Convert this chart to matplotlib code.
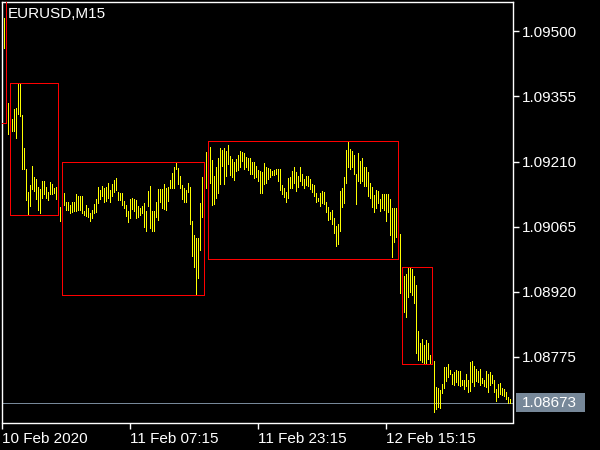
import matplotlib
matplotlib.use("Agg")
import matplotlib.pyplot as plt
import matplotlib.transforms as mtransforms
from matplotlib.patches import Rectangle

plt.rcParams['font.family'] = ['Liberation Sans', 'DejaVu Sans']

symbol = "EURUSD,M15"

highs = [
    1.09529, 1.09467, 1.09340, 1.09322, 1.09305, 1.09326, 1.09330, 1.09383, 1.09384, 1.09314,
    1.09240, 1.09194, 1.09143, 1.09158, 1.09200, 1.09176, 1.09171, 1.09154, 1.09149, 1.09167,
    1.09166, 1.09154, 1.09142, 1.09165, 1.09160, 1.09151, 1.09154, 1.09145, 1.09109, 1.09127,
    1.09139, 1.09121, 1.09119, 1.09114, 1.09121, 1.09121, 1.09138, 1.09134, 1.09133, 1.09134,
    1.09101, 1.09114, 1.09106, 1.09095, 1.09103, 1.09116, 1.09127, 1.09154, 1.09146, 1.09155,
    1.09152, 1.09154, 1.09163, 1.09146, 1.09160, 1.09170, 1.09174, 1.09143, 1.09141, 1.09139,
    1.09123, 1.09113, 1.09099, 1.09127, 1.09129, 1.09126, 1.09124, 1.09112, 1.09107, 1.09112,
    1.09118, 1.09101, 1.09145, 1.09156, 1.09101, 1.09101, 1.09121, 1.09149, 1.09149, 1.09149,
    1.09159, 1.09151, 1.09154, 1.09170, 1.09185, 1.09198, 1.09207, 1.09196, 1.09178, 1.09158,
    1.09152, 1.09146, 1.09162, 1.09154, 1.09078, 1.09047, 1.09040, 1.09040, 1.09118, 1.09176,
    1.09200, 1.09232, 1.09234, 1.09243, 1.09213, 1.09178, 1.09197, 1.09218, 1.09240, 1.09236,
    1.09240, 1.09234, 1.09247, 1.09223, 1.09215, 1.09208, 1.09215, 1.09225, 1.09234, 1.09232,
    1.09230, 1.09220, 1.09218, 1.09218, 1.09210, 1.09208, 1.09200, 1.09191, 1.09189, 1.09186,
    1.09206, 1.09197, 1.09195, 1.09193, 1.09189, 1.09192, 1.09193, 1.09194, 1.09193, 1.09158,
    1.09151, 1.09143, 1.09173, 1.09176, 1.09189, 1.09197, 1.09186, 1.09178, 1.09198, 1.09183,
    1.09171, 1.09178, 1.09178, 1.09171, 1.09161, 1.09158, 1.09141, 1.09130, 1.09139, 1.09145,
    1.09143, 1.09121, 1.09109, 1.09097, 1.09102, 1.09084, 1.09067, 1.09070, 1.09145, 1.09151,
    1.09175, 1.09236, 1.09256, 1.09238, 1.09234, 1.09225, 1.09183, 1.09229, 1.09212, 1.09218,
    1.09198, 1.09198, 1.09187, 1.09163, 1.09154, 1.09136, 1.09146, 1.09145, 1.09127, 1.09138,
    1.09138, 1.09138, 1.09138, 1.09127, 1.09107, 1.09107, 1.09107, 1.09067, 1.09049, 1.08972,
    1.08956, 1.08959, 1.08973, 1.08976, 1.08970, 1.08956, 1.08936, 1.08832, 1.08807, 1.08814,
    1.08801, 1.08812, 1.08807, 1.08780, 1.08779, 1.08766, 1.08708, 1.08706, 1.08701, 1.08714,
    1.08753, 1.08753, 1.08759, 1.08747, 1.08738, 1.08742, 1.08746, 1.08743, 1.08743, 1.08723,
    1.08723, 1.08736, 1.08723, 1.08763, 1.08766, 1.08754, 1.08748, 1.08743, 1.08748, 1.08727,
    1.08723, 1.08743, 1.08736, 1.08742, 1.08734, 1.08723, 1.08703, 1.08714, 1.08718, 1.08705,
    1.08703, 1.08696, 1.08686, 1.08681,
]

lows = [
    1.09462, 1.09297, 1.09271, 1.09283, 1.09277, 1.09278, 1.09262, 1.09315, 1.09311, 1.09194,
    1.09194, 1.09125, 1.09092, 1.09112, 1.09150, 1.09145, 1.09127, 1.09103, 1.09095, 1.09130,
    1.09138, 1.09130, 1.09124, 1.09138, 1.09138, 1.09139, 1.09127, 1.09114, 1.09077, 1.09092,
    1.09114, 1.09103, 1.09103, 1.09095, 1.09098, 1.09101, 1.09101, 1.09103, 1.09103, 1.09095,
    1.09090, 1.09088, 1.09086, 1.09078, 1.09084, 1.09095, 1.09097, 1.09118, 1.09127, 1.09134,
    1.09119, 1.09123, 1.09130, 1.09121, 1.09133, 1.09143, 1.09146, 1.09125, 1.09125, 1.09113,
    1.09107, 1.09088, 1.09076, 1.09084, 1.09104, 1.09101, 1.09084, 1.09086, 1.09092, 1.09096,
    1.09064, 1.09056, 1.09112, 1.09063, 1.09056, 1.09056, 1.09087, 1.09081, 1.09119, 1.09107,
    1.09104, 1.09103, 1.09123, 1.09151, 1.09152, 1.09152, 1.09193, 1.09161, 1.09152, 1.09127,
    1.09119, 1.09121, 1.09143, 1.09071, 1.08999, 1.08976, 1.08914, 1.08950, 1.09014, 1.09087,
    1.09134, 1.09152, 1.09178, 1.09163, 1.09114, 1.09115, 1.09130, 1.09139, 1.09161, 1.09200,
    1.09161, 1.09178, 1.09204, 1.09180, 1.09176, 1.09169, 1.09188, 1.09191, 1.09199, 1.09212,
    1.09193, 1.09198, 1.09191, 1.09182, 1.09182, 1.09173, 1.09175, 1.09167, 1.09141, 1.09141,
    1.09160, 1.09163, 1.09171, 1.09175, 1.09180, 1.09180, 1.09182, 1.09167, 1.09147, 1.09138,
    1.09132, 1.09119, 1.09130, 1.09152, 1.09152, 1.09163, 1.09145, 1.09154, 1.09166, 1.09158,
    1.09152, 1.09158, 1.09156, 1.09149, 1.09143, 1.09134, 1.09121, 1.09123, 1.09112, 1.09117,
    1.09115, 1.09097, 1.09080, 1.09082, 1.09071, 1.09050, 1.09023, 1.09027, 1.09055, 1.09108,
    1.09117, 1.09163, 1.09198, 1.09193, 1.09199, 1.09182, 1.09115, 1.09166, 1.09163, 1.09167,
    1.09156, 1.09156, 1.09134, 1.09130, 1.09109, 1.09097, 1.09106, 1.09117, 1.09101, 1.09107,
    1.09102, 1.09077, 1.09097, 1.09047, 1.08997, 1.09030, 1.09043, 1.08994, 1.08917, 1.08901,
    1.08874, 1.08863, 1.08908, 1.08919, 1.08914, 1.08894, 1.08783, 1.08769, 1.08769, 1.08764,
    1.08762, 1.08762, 1.08771, 1.08762, 1.08760, 1.08652, 1.08659, 1.08664, 1.08662, 1.08694,
    1.08705, 1.08721, 1.08731, 1.08737, 1.08714, 1.08712, 1.08720, 1.08712, 1.08711, 1.08712,
    1.08703, 1.08710, 1.08696, 1.08699, 1.08720, 1.08711, 1.08721, 1.08720, 1.08712, 1.08718,
    1.08710, 1.08708, 1.08697, 1.08712, 1.08716, 1.08696, 1.08677, 1.08686, 1.08692, 1.08690,
    1.08688, 1.08681, 1.08673, 1.08673,
]

x_tick_pos = [-1, 63, 127, 191]
x_tick_labels = ["10 Feb 2020", "11 Feb 07:15", "11 Feb 23:15", "12 Feb 15:15"]
y_ticks = [1.08775, 1.08920, 1.09065, 1.09210, 1.09355, 1.09500]

rect_start = [-10, 3, 29, 102, 199]
rect_end = [1, 27, 100, 197, 214]
rect_top = [1.09600, 1.09384, 1.09208, 1.09256, 1.08976]
rect_bottom = [1.09297, 1.09092, 1.08914, 1.08994, 1.08760]

last_price = 1.08673

BG = "black"
FG = "white"

fig = plt.figure(figsize=(6, 4.5), dpi=100, facecolor=BG)
ax = fig.add_axes([2.3 / 600, (450 - 422.5) / 450, (513.3 - 2.3) / 600, (422.5 - 1.7) / 450])
ax.set_facecolor(BG)

idx = list(range(len(highs)))
ax.vlines(idx, lows, highs, colors="#ffff00", linewidth=0.72, antialiased=False, zorder=3)

for s, e, t, b in zip(rect_start, rect_end, rect_top, rect_bottom):
    ax.add_patch(Rectangle((s, b), e - s, t - b, fill=False, edgecolor="#ff0000",
                           linewidth=0.72, antialiased=False, zorder=4))

ax.axhline(last_price, color="#778899", linewidth=0.72, zorder=2)

ax.set_xlim(-1, 254.5)
ax.set_ylim(1.086290, 1.095660)

for sp in ax.spines.values():
    sp.set_color(FG)
    sp.set_linewidth(1.0)

ax.yaxis.tick_right()
ax.set_yticks(y_ticks)
ax.set_yticklabels([f"{v:.5f}" for v in y_ticks])
ax.tick_params(axis="y", colors=FG, length=4, width=1, pad=2, labelsize=11, labelcolor=FG)

ax.set_xticks(x_tick_pos)
ax.set_xticklabels(x_tick_labels, ha="left")
ax.tick_params(axis="x", colors=FG, length=4, width=1, pad=3, labelsize=11, labelcolor=FG)

trans = mtransforms.blended_transform_factory(ax.transAxes, ax.transData)
ax.add_patch(Rectangle((1.0053, last_price - 0.00021), 0.135, 0.00042, transform=trans,
                       facecolor="#778899", edgecolor="none", clip_on=False, zorder=5))
ax.text(1.016, last_price, f"{last_price:.5f}", transform=trans, ha="left", va="center",
        fontsize=11, color=FG, clip_on=False, zorder=6)

ax.text(0.011, 0.988, symbol, transform=ax.transAxes, ha="left", va="top",
        fontsize=11, color=FG)

fig.savefig("out.png", dpi=100, facecolor=BG)
